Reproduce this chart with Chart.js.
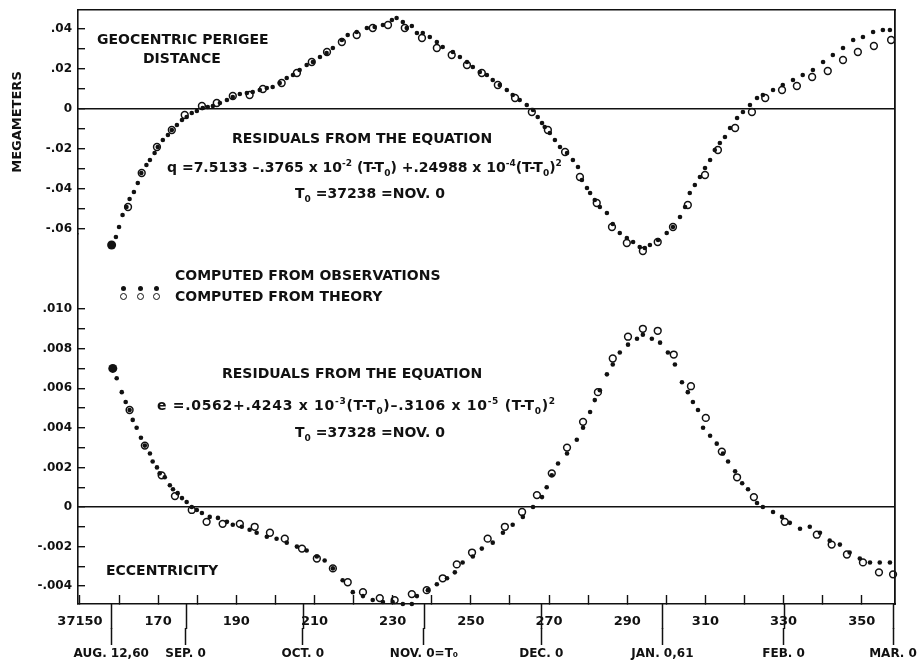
<!DOCTYPE html>
<html>
<head>
<meta charset="utf-8">
<title>Perigee distance and eccentricity residuals</title>
<script src="https://cdn.jsdelivr.net/npm/chart.js@4.4.1/dist/chart.umd.min.js"></script>
<style>
  html, body { margin: 0; padding: 0; background: #fff; }
  #wrap { position: relative; width: 923px; height: 667px; overflow: hidden; }
  #plot { position: absolute; left: 0; top: 0; }
  .note {
    position: absolute;
    font: bold 14px "DejaVu Sans", sans-serif;
    line-height: 14px;
    color: #111;
    white-space: nowrap;
  }
  .note sup, .note sub { font-size: 9px; line-height: 0; }
  .wide { letter-spacing: 0.7px; }
  .dot, .ring { position: absolute; border-radius: 50%; box-sizing: border-box; }
  .dot { width: 5px; height: 5px; background: #111; }
  .ring { width: 7px; height: 7px; border: 1.5px solid #111; }
</style>
</head>
<body>
<div id="wrap">
  <canvas id="plot" width="923" height="667"></canvas>

  <div class="note" style="left:97px; top:32px">GEOCENTRIC PERIGEE</div>
  <div class="note" style="left:143px; top:51px">DISTANCE</div>

  <div class="note" style="left:232px; top:131px">RESIDUALS FROM THE EQUATION</div>
  <div class="note" style="left:167px; top:160px">q =7.5133 &ndash;.3765 x 10<sup>-2</sup> (T-T<sub>0</sub>) +.24988 x 10<sup>-4</sup>(T-T<sub>0</sub>)<sup>2</sup></div>
  <div class="note" style="left:295px; top:186px">T<sub>0</sub> =37238 =NOV. 0</div>

  <!-- key -->
  <div class="dot" style="left:121px; top:286px"></div>
  <div class="dot" style="left:138px; top:286px"></div>
  <div class="dot" style="left:154px; top:286px"></div>
  <div class="ring" style="left:120px; top:293px"></div>
  <div class="ring" style="left:137px; top:293px"></div>
  <div class="ring" style="left:153px; top:293px"></div>
  <div class="note" style="left:175px; top:268px">COMPUTED FROM OBSERVATIONS</div>
  <div class="note" style="left:175px; top:289px">COMPUTED FROM THEORY</div>

  <div class="note" style="left:222px; top:366px">RESIDUALS FROM THE EQUATION</div>
  <div class="note wide" style="left:157px; top:398px">e =.0562+.4243 x 10<sup>-3</sup>(T-T<sub>0</sub>)&ndash;.3106 x 10<sup>-5</sup> (T-T<sub>0</sub>)<sup>2</sup></div>
  <div class="note" style="left:295px; top:425px">T<sub>0</sub> =37328 =NOV. 0</div>

  <div class="note" style="left:106px; top:563px">ECCENTRICITY</div>
</div>

<script>
// time axis (MJD)
const dayMin = 37149.5;
const dayMax = 37358.5;
const dayTicks = [37150, 37160, 37170, 37180, 37190, 37200, 37210, 37220, 37230, 37240,
  37250, 37260, 37270, 37280, 37290, 37300, 37310, 37320, 37330, 37340, 37350];
const dayTickLabels = ["37150", "", "170", "", "190", "", "210", "", "230", "",
  "250", "", "270", "", "290", "", "310", "", "330", "", "350"];
const dateTicks = [37158, 37177, 37207, 37238, 37268, 37299, 37330, 37358];
const dateTickLabels = ["AUG. 12,60", "SEP. 0", "OCT. 0", "NOV. 0=T\u2080", "DEC. 0", "JAN. 0,61", "FEB. 0", "MAR. 0"];

// perigee distance residuals (megameters)
const qMin = -0.0625, qMax = 0.0495;
const qTicks = [-0.06, -0.05, -0.04, -0.03, -0.02, -0.01, 0, 0.01, 0.02, 0.03, 0.04];
const qTickLabels = ["-.06", "", "-.04", "", "-.02", "", "0", "", ".02", "", ".04"];

const qObsDays = [37158.1, 37159.2, 37160.0, 37160.9, 37161.9, 37162.7, 37163.8, 37164.8, 37165.7, 37167.0,
  37167.9, 37169.1, 37169.9, 37171.2, 37172.5, 37173.5, 37174.8, 37176.1, 37177.3, 37178.6,
  37179.9, 37181.4, 37182.7, 37184.0, 37185.8, 37187.6, 37189.1, 37190.9, 37192.7, 37194.2,
  37196.0, 37197.8, 37199.3, 37201.1, 37202.9, 37204.5, 37206.2, 37208.0, 37209.6, 37211.4,
  37213.1, 37214.7, 37217.0, 37218.5, 37220.8, 37223.4, 37225.4, 37227.5, 37229.8, 37231.0,
  37232.6, 37233.6, 37234.9, 37236.2, 37237.7, 37239.5, 37241.3, 37242.8, 37245.4, 37247.2,
  37249.0, 37250.5, 37252.3, 37254.1, 37255.6, 37257.4, 37259.2, 37260.7, 37262.5, 37264.3,
  37265.9, 37267.1, 37268.2, 37268.9, 37270.2, 37271.5, 37272.8, 37274.6, 37276.1, 37277.4,
  37278.4, 37279.7, 37280.5, 37281.7, 37283.0, 37284.8, 37286.3, 37288.1, 37289.9, 37291.5,
  37293.2, 37294.5, 37295.8, 37297.9, 37300.1, 37301.7, 37303.5, 37304.8, 37306.0, 37307.3,
  37308.6, 37309.9, 37311.2, 37312.4, 37313.7, 37315.0, 37316.3, 37318.1, 37319.6, 37321.4,
  37323.2, 37324.7, 37327.3, 37329.8, 37332.4, 37334.9, 37337.5, 37340.1, 37342.6, 37345.2,
  37347.8, 37350.3, 37352.9, 37355.4, 37357.2];
const qObsVals = [-0.068, -0.064, -0.059, -0.053, -0.049, -0.045, -0.0415, -0.037, -0.032, -0.028,
  -0.0255, -0.022, -0.019, -0.0155, -0.013, -0.0105, -0.008, -0.0055, -0.004, -0.002,
  -0.001, 0.0005, 0.001, 0.0015, 0.003, 0.0045, 0.006, 0.0075, 0.008, 0.0085,
  0.0095, 0.0105, 0.011, 0.013, 0.0155, 0.017, 0.0195, 0.022, 0.0235, 0.026,
  0.028, 0.0305, 0.0345, 0.037, 0.0385, 0.0405, 0.041, 0.042, 0.0445, 0.0455,
  0.0435, 0.0405, 0.0415, 0.038, 0.038, 0.036, 0.0335, 0.031, 0.0285, 0.026,
  0.0235, 0.021, 0.0185, 0.017, 0.0145, 0.012, 0.0095, 0.007, 0.0045, 0.002,
  -0.0005, -0.004, -0.007, -0.009, -0.012, -0.0155, -0.019, -0.022, -0.0255, -0.029,
  -0.0355, -0.0395, -0.042, -0.0455, -0.049, -0.052, -0.0575, -0.062, -0.0645, -0.0665,
  -0.069, -0.0695, -0.068, -0.0655, -0.062, -0.059, -0.054, -0.049, -0.042, -0.038,
  -0.034, -0.0295, -0.0255, -0.0205, -0.017, -0.014, -0.0095, -0.0045, -0.0015, 0.002,
  0.0055, 0.007, 0.0095, 0.012, 0.0145, 0.017, 0.0195, 0.0235, 0.027, 0.0305,
  0.0345, 0.036, 0.0385, 0.0395, 0.0395];

const qTheoryDays = [37162.3, 37165.8, 37169.7, 37173.5, 37176.8, 37181.2, 37185.0, 37189.1, 37193.4, 37196.8,
  37201.6, 37205.5, 37209.3, 37213.2, 37217.0, 37220.8, 37224.9, 37228.8, 37233.1, 37237.5,
  37241.3, 37245.1, 37249.0, 37252.8, 37256.9, 37261.3, 37265.6, 37269.7, 37274.1, 37277.9,
  37282.2, 37286.1, 37289.9, 37294.0, 37297.8, 37301.7, 37305.5, 37309.9, 37313.2, 37317.6,
  37321.9, 37325.3, 37329.6, 37333.4, 37337.3, 37341.3, 37345.2, 37349.0, 37353.1, 37357.5];
const qTheoryVals = [-0.049, -0.032, -0.019, -0.0105, -0.003, 0.0015, 0.003, 0.0065, 0.007, 0.010,
  0.013, 0.018, 0.0235, 0.0285, 0.0335, 0.037, 0.0405, 0.042, 0.0405, 0.0355,
  0.0305, 0.027, 0.022, 0.018, 0.012, 0.0055, -0.0015, -0.0105, -0.0215, -0.034,
  -0.047, -0.059, -0.067, -0.071, -0.0665, -0.059, -0.048, -0.033, -0.0205, -0.0095,
  -0.0015, 0.0055, 0.0095, 0.0115, 0.016, 0.019, 0.0245, 0.0285, 0.0315, 0.0345];

// eccentricity residuals
const eMin = -0.004899, eMax = 0.013788;
const eTicks = [-0.004, -0.003, -0.002, -0.001, 0, 0.001, 0.002, 0.003, 0.004, 0.005,
  0.006, 0.007, 0.008, 0.009, 0.010];
const eTickLabels = ["-.004", "", "-.002", "", "0", "", ".002", "", ".004", "",
  ".006", "", ".008", "", ".010"];

const eObsDays = [37158.4, 37159.4, 37160.7, 37161.7, 37162.7, 37163.5, 37164.5, 37165.6, 37166.6, 37167.9,
  37168.6, 37169.7, 37170.4, 37171.7, 37173.0, 37173.8, 37175.0, 37176.1, 37177.3, 37178.6,
  37179.9, 37181.2, 37183.2, 37185.3, 37187.6, 37189.1, 37191.4, 37193.4, 37195.2, 37197.8,
  37200.3, 37202.9, 37205.5, 37208.0, 37210.6, 37212.6, 37214.7, 37217.2, 37219.8, 37222.4,
  37224.9, 37227.5, 37230.0, 37232.6, 37234.9, 37236.2, 37239.0, 37241.3, 37243.9, 37245.9,
  37247.9, 37250.5, 37252.8, 37255.6, 37258.2, 37260.7, 37263.3, 37265.9, 37268.2, 37269.4,
  37270.7, 37272.3, 37274.6, 37277.1, 37278.7, 37280.5, 37281.7, 37283.0, 37284.8, 37286.3,
  37288.1, 37290.2, 37292.5, 37294.0, 37296.3, 37298.4, 37300.4, 37302.2, 37304.0, 37305.5,
  37306.8, 37308.1, 37309.4, 37311.2, 37312.9, 37314.5, 37315.8, 37317.6, 37319.4, 37320.9,
  37323.2, 37324.7, 37327.3, 37329.6, 37331.6, 37334.2, 37336.7, 37339.3, 37341.8, 37344.4,
  37346.9, 37349.5, 37352.1, 37354.6, 37357.2];
const eObsVals = [0.0070, 0.0065, 0.0058, 0.0053, 0.0049, 0.0044, 0.0040, 0.0035, 0.0031, 0.0027,
  0.0023, 0.0020, 0.0017, 0.0015, 0.0011, 0.0009, 0.0007, 0.00045, 0.00025, 0,
  -0.00015, -0.0003, -0.0005, -0.00055, -0.00075, -0.0009, -0.001, -0.00115, -0.0013, -0.0015,
  -0.0016, -0.0018, -0.002, -0.0022, -0.0025, -0.0027, -0.0031, -0.0037, -0.0043, -0.0045,
  -0.0047, -0.0048, -0.0048, -0.0049, -0.0049, -0.0045, -0.0042, -0.0039, -0.0036, -0.0033,
  -0.0028, -0.0025, -0.0021, -0.0018, -0.0013, -0.0009, -0.0005, 0, 0.0005, 0.001,
  0.0016, 0.0022, 0.0027, 0.0034, 0.004, 0.0048, 0.0054, 0.0059, 0.0067, 0.0072,
  0.0078, 0.0082, 0.0085, 0.0087, 0.0085, 0.0083, 0.0078, 0.0072, 0.0063, 0.0058,
  0.0053, 0.0049, 0.004, 0.0036, 0.0032, 0.0027, 0.0023, 0.0018, 0.0012, 0.0009,
  0.0002, 0, -0.00025, -0.0005, -0.0008, -0.0011, -0.001, -0.0013, -0.0017, -0.0019,
  -0.0023, -0.0026, -0.0028, -0.0028, -0.0028];

const eTheoryDays = [37162.7, 37166.6, 37170.9, 37174.3, 37178.6, 37182.4, 37186.5, 37190.9, 37194.7, 37198.6,
  37202.4, 37206.8, 37210.6, 37214.7, 37218.5, 37222.4, 37226.7, 37230.5, 37234.9, 37238.7,
  37242.8, 37246.4, 37250.3, 37254.3, 37258.7, 37263.1, 37266.9, 37270.7, 37274.6, 37278.7,
  37282.5, 37286.3, 37290.2, 37294.0, 37297.8, 37301.9, 37306.3, 37310.1, 37314.2, 37318.1,
  37322.4, 37330.3, 37338.5, 37342.3, 37346.2, 37350.3, 37354.4, 37358.0];
const eTheoryVals = [0.0049, 0.0031, 0.0016, 0.00055, -0.00015, -0.00075, -0.00085, -0.00085, -0.001, -0.0013,
  -0.0016, -0.0021, -0.0026, -0.0031, -0.0038, -0.0043, -0.0046, -0.0047, -0.0044, -0.0042,
  -0.0036, -0.0029, -0.0023, -0.0016, -0.001, -0.00025, 0.0006, 0.0017, 0.003, 0.0043,
  0.0058, 0.0075, 0.0086, 0.009, 0.0089, 0.0077, 0.0061, 0.0045, 0.0028, 0.0015,
  0.0005, -0.00075, -0.0014, -0.0019, -0.0024, -0.0028, -0.0033, -0.0034];

const ink = "#111";
const face = "'DejaVu Sans', sans-serif";

function points(days, vals) {
  return days.map((d, i) => ({ x: d, y: vals[i] }));
}

// only the zero level gets a line across the plot
const zeroLine = (c) => (c.tick && c.tick.value === 0 ? ink : "rgba(0,0,0,0)");

// left axes: fixed width, and no label overhang padding pushing the plot down
const fitLeftAxis = (s) => {
  s.width = 78;
  s.paddingTop = 0;
  s.paddingBottom = 0;
};

// joins the long date ticks to the axis line, through the day-number row
const dateTickLink = {
  id: "dateTickLink",
  afterDraw(chart) {
    const { ctx, chartArea, scales } = chart;
    ctx.save();
    ctx.strokeStyle = ink;
    ctx.lineWidth = 1.5;
    dateTicks.forEach((v) => {
      const px = Math.round(scales.x.getPixelForValue(v)) + 0.5;
      ctx.beginPath();
      ctx.moveTo(px, chartArea.bottom);
      ctx.lineTo(px, scales.x2.top + 1);
      ctx.stroke();
    });
    ctx.restore();
  },
};

// the perigee minimum dips below its own axis band, so no clipping per panel
const observed = {
  showLine: false,
  clip: false,
  pointStyle: "circle",
  pointBackgroundColor: ink,
  pointBorderWidth: 0,
  pointRadius: (c) => (c.dataIndex === 0 ? 4.5 : 2.3),
};
const theory = {
  showLine: false,
  clip: false,
  pointStyle: "circle",
  pointBackgroundColor: "rgba(0,0,0,0)",
  pointBorderColor: ink,
  pointBorderWidth: 1.5,
  pointRadius: 3.4,
};

const tickFont = { family: face, weight: "bold", size: 12 };

new Chart(document.getElementById("plot"), {
  type: "scatter",
  data: {
    datasets: [
      { ...observed, label: "q observations", data: points(qObsDays, qObsVals), xAxisID: "x", yAxisID: "yQ" },
      { ...theory, label: "q theory", data: points(qTheoryDays, qTheoryVals), xAxisID: "x", yAxisID: "yQ" },
      { ...observed, label: "e observations", data: points(eObsDays, eObsVals), xAxisID: "x", yAxisID: "yE" },
      { ...theory, label: "e theory", data: points(eTheoryDays, eTheoryVals), xAxisID: "x", yAxisID: "yE" },
    ],
  },
  options: {
    responsive: false,
    animation: false,
    events: [],
    layout: { padding: { left: 0, right: 28, top: 10, bottom: 0 } },
    plugins: { legend: { display: false }, tooltip: { enabled: false } },
    scales: {
      x: {
        type: "linear",
        position: "bottom",
        min: dayMin,
        max: dayMax,
        afterBuildTicks: (s) => { s.ticks = dayTicks.map((v) => ({ value: v })); },
        afterFit: (s) => { s.height = 24; },
        ticks: {
          autoSkip: false, maxRotation: 0, padding: 19, color: ink,
          font: { family: face, weight: "bold", size: 13 },
          callback: (v, i) => dayTickLabels[i],
        },
        grid: { drawOnChartArea: false, tickLength: -9, tickColor: ink, tickWidth: 1.4 },
        border: { color: ink, width: 1.6 },
      },
      x2: {
        type: "linear",
        position: "bottom",
        min: dayMin,
        max: dayMax,
        afterBuildTicks: (s) => { s.ticks = dateTicks.map((v) => ({ value: v })); },
        afterFit: (s) => { s.height = 39; },
        ticks: {
          autoSkip: false, maxRotation: 0, padding: 2, color: ink,
          font: tickFont,
          callback: (v, i) => dateTickLabels[i],
        },
        grid: { drawOnChartArea: false, tickLength: 17, tickColor: ink, tickWidth: 1.5 },
        border: { display: false },
      },
      xTop: {
        type: "linear",
        position: "top",
        min: dayMin,
        max: dayMax,
        afterFit: (s) => { s.height = 0; },
        ticks: { display: false },
        grid: { drawOnChartArea: false, drawTicks: false },
        border: { color: ink, width: 1.6 },
      },
      yRight: {
        type: "linear",
        position: "right",
        min: 0,
        max: 1,
        afterFit: (s) => { s.width = 0; },
        ticks: { display: false },
        grid: { drawOnChartArea: false, drawTicks: false },
        border: { color: ink, width: 1.8 },
      },
      // stacked left axes: the eccentricity panel is listed first so it sits below
      yE: {
        type: "linear",
        position: "left",
        stack: "panels",
        stackWeight: 370,
        min: eMin,
        max: eMax,
        afterBuildTicks: (s) => { s.ticks = eTicks.map((v) => ({ value: v })); },
        afterFit: fitLeftAxis,
        ticks: {
          autoSkip: false, padding: 13, color: ink,
          font: tickFont,
          callback: (v, i) => eTickLabels[i],
        },
        grid: { color: zeroLine, lineWidth: 1.4, tickLength: -7, tickColor: ink, tickWidth: 1.4 },
        border: { color: ink, width: 1.6 },
      },
      yQ: {
        type: "linear",
        position: "left",
        stack: "panels",
        stackWeight: 224,
        min: qMin,
        max: qMax,
        afterBuildTicks: (s) => { s.ticks = qTicks.map((v) => ({ value: v })); },
        afterFit: fitLeftAxis,
        ticks: {
          autoSkip: false, padding: 13, color: ink,
          font: tickFont,
          callback: (v, i) => qTickLabels[i],
        },
        grid: { color: zeroLine, lineWidth: 1.4, tickLength: -7, tickColor: ink, tickWidth: 1.4 },
        border: { color: ink, width: 1.6 },
        title: {
          display: true, text: "MEGAMETERS", color: ink,
          font: { family: face, weight: "bold", size: 13 },
          padding: { top: 10, bottom: 0 },
        },
      },
    },
  },
  plugins: [dateTickLink],
});
</script>
</body>
</html>
